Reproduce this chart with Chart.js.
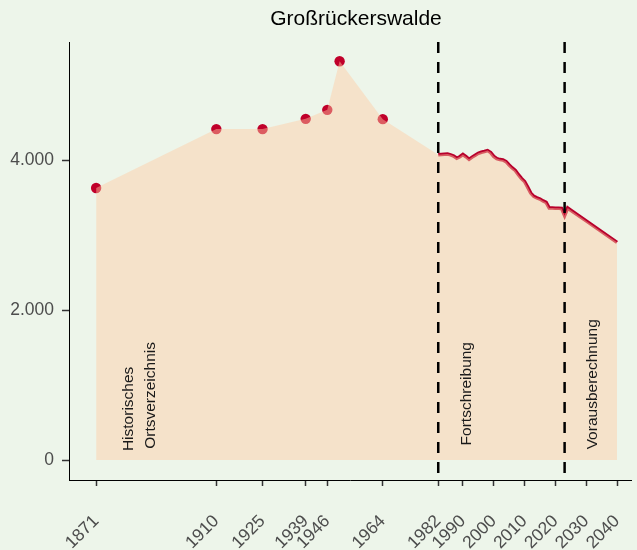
<!DOCTYPE html>
<html>
<head>
<meta charset="utf-8">
<script src="https://cdn.jsdelivr.net/npm/chart.js@4.4.1/dist/chart.umd.min.js"></script>
<style>
  html, body { margin: 0; padding: 0; background: #edf5ea; overflow: hidden; }
  #wrap { width: 637px; height: 550px; }
</style>
</head>
<body>
<div id="wrap"><canvas id="popChart" width="637" height="550"></canvas></div>
<script>
// Historisches Ortsverzeichnis (Punkte)
const censusYears = [1871, 1910, 1925, 1939, 1946, 1950, 1964];
const censusPop = [3632, 4419, 4419, 4556, 4676, 5325, 4552];

// Fortschreibung
const trendYears = [1982, 1983, 1984, 1985, 1986, 1987, 1988, 1989, 1990, 1991,
  1992, 1993, 1994, 1995, 1996, 1997, 1998, 1999, 2000, 2001, 2002, 2003, 2004,
  2005, 2006, 2007, 2008, 2009, 2010, 2011, 2012, 2013, 2014, 2015, 2016, 2017,
  2018, 2019, 2020, 2021, 2022, 2023];
const trendPop = [4076, 4080, 4083, 4085, 4075, 4060, 4030, 4050, 4080, 4050,
  4015, 4045, 4070, 4095, 4110, 4120, 4132, 4105, 4055, 4025, 4012, 4008, 3985,
  3940, 3900, 3867, 3810, 3760, 3720, 3645, 3565, 3520, 3500, 3485, 3460, 3440,
  3365, 3365, 3363, 3362, 3360, 3263];

// Vorausberechnung
const projYears = [2024, 2025, 2030, 2035, 2040];
const projPop = [3365, 3336, 3193, 3050, 2907];

const xTickYears = [1871, 1910, 1925, 1939, 1946, 1964, 1982, 1990, 2000, 2010, 2020, 2030, 2040];
const yTickValues = [0, 2000, 4000];
const phaseBreaks = [1982, 2023];
const phaseLabels = [
  { text: 'Historisches', x: 1883.0, y: 120 },
  { text: 'Ortsverzeichnis', x: 1890.1, y: 150 },
  { text: 'Fortschreibung', x: 1992.6, y: 196 },
  { text: 'Vorausberechnung', x: 2033.4, y: 143 }
];
const chartTitle = 'Großrückerswalde';

const toPts = (xs, ys) => xs.map((v, i) => ({ x: v, y: ys[i] }));
const censusPts = toPts(censusYears, censusPop);
const linePts = toPts(trendYears.concat(projYears), trendPop.concat(projPop));
const areaPts = censusPts.concat(linePts);

const FONT = '"Liberation Sans", Arial, sans-serif';

const overlay = {
  id: 'overlay',
  beforeDraw(chart) {
    const ctx = chart.ctx;
    ctx.save();
    ctx.fillStyle = '#edf5ea';
    ctx.fillRect(0, 0, chart.width, chart.height);
    ctx.restore();
  },
  afterDatasetsDraw(chart) {
    const { ctx, chartArea, scales: { x, y } } = chart;
    ctx.save();
    // Trennlinien
    ctx.strokeStyle = '#000';
    ctx.lineWidth = 2.5;
    ctx.setLineDash([11, 9]);
    phaseBreaks.forEach(yr => {
      const px = x.getPixelForValue(yr);
      ctx.beginPath();
      ctx.moveTo(px, chartArea.top);
      ctx.lineTo(px, chartArea.bottom);
      ctx.stroke();
    });
    ctx.setLineDash([]);
    // Beschriftungen
    ctx.fillStyle = '#1a1a1a';
    ctx.font = '15.5px ' + FONT;
    ctx.textAlign = 'left';
    ctx.textBaseline = 'alphabetic';
    phaseLabels.forEach(l => {
      ctx.save();
      ctx.translate(x.getPixelForValue(l.x), y.getPixelForValue(l.y));
      ctx.rotate(-Math.PI / 2);
      ctx.fillText(l.text, 0, 0);
      ctx.restore();
    });
    // Titel
    ctx.fillStyle = '#000';
    ctx.font = '21px ' + FONT;
    ctx.textAlign = 'center';
    ctx.fillText(chartTitle, 356, 25);
    ctx.restore();
  }
};

const ctx = document.getElementById('popChart').getContext('2d');
const popChart = new Chart(ctx, {
  type: 'line',
  data: {
    datasets: [
      {
        // halbtransparente Fläche liegt über Punkten und Linie
        data: areaPts,
        borderWidth: 0,
        pointRadius: 0,
        backgroundColor: 'rgba(255, 205, 165, 0.45)',
        fill: 'origin',
        order: 0
      },
      {
        data: censusPts,
        showLine: false,
        pointRadius: 5.2,
        pointBackgroundColor: '#c0002a',
        pointBorderWidth: 0,
        order: 1
      },
      {
        data: linePts,
        borderColor: '#b8002c',
        borderWidth: 3.5,
        pointRadius: 0,
        fill: false,
        order: 2
      }
    ]
  },
  options: {
    responsive: false,
    animation: false,
    layout: { padding: { top: 42, right: 0, bottom: 0, left: 0 } },
    plugins: {
      legend: { display: false },
      title: { display: false },
      tooltip: { enabled: false }
    },
    scales: {
      x: {
        type: 'linear',
        min: 1862.2,
        max: 2044.8,
        afterBuildTicks: s => { s.ticks = xTickYears.map(v => ({ value: v })); },
        afterFit: s => { s.height = 70; s.paddingLeft = 0; s.paddingRight = 0; },
        ticks: {
          autoSkip: false,
          maxRotation: 45,
          minRotation: 45,
          padding: 25,
          color: '#4d4d4d',
          font: { family: FONT, size: 17.5 },
          callback: v => String(v)
        },
        grid: { display: true, drawOnChartArea: false, drawTicks: true, tickLength: 6, tickWidth: 1.5, tickColor: '#333' },
        border: { display: true, color: '#000', width: 1 }
      },
      y: {
        type: 'linear',
        min: -266,
        max: 5582,
        afterBuildTicks: s => { s.ticks = yTickValues.map(v => ({ value: v })); },
        afterFit: s => { s.width = 69; },
        ticks: {
          padding: 8,
          color: '#4d4d4d',
          font: { family: FONT, size: 17.5 },
          callback: v => v.toLocaleString('de-DE')
        },
        grid: { display: true, drawOnChartArea: false, drawTicks: true, tickLength: 7, tickWidth: 1.5, tickColor: '#333' },
        border: { display: true, color: '#000', width: 1 }
      }
    }
  },
  plugins: [overlay]
});
</script>
</body>
</html>
